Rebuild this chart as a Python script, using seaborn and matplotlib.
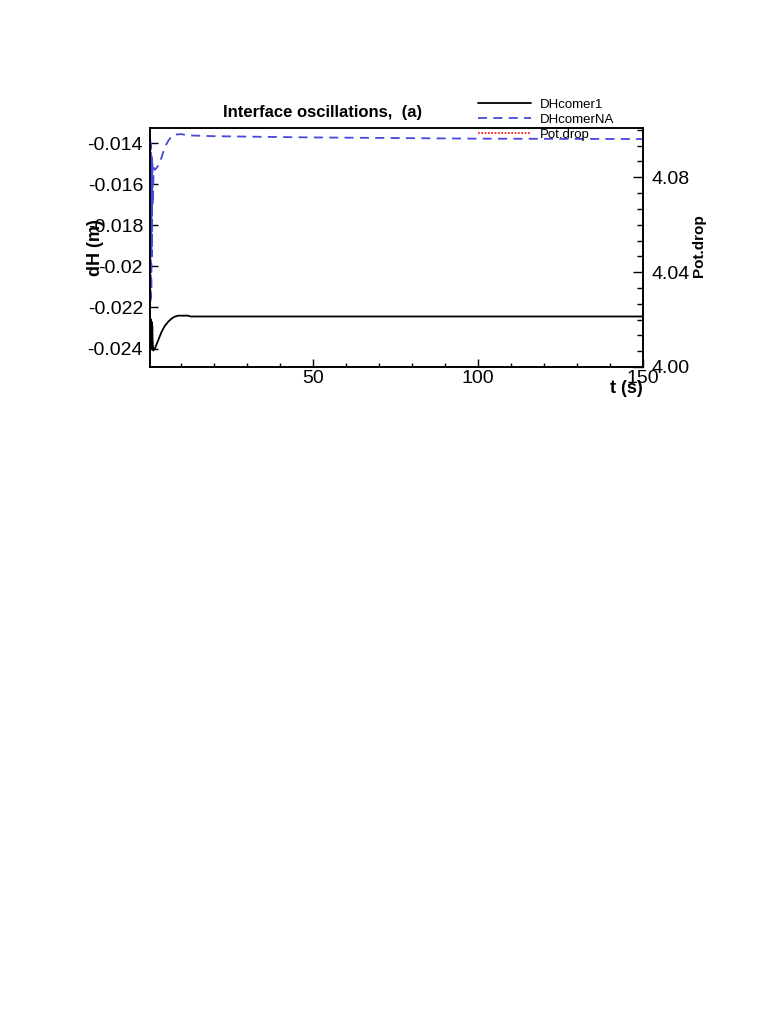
import numpy as np
import pandas as pd
import seaborn as sns
import matplotlib.pyplot as plt
from matplotlib.ticker import MultipleLocator

# DHcomer1 (black solid)
t_c1 = [0.6, 0.7, 0.8, 0.9, 1.0, 1.1, 1.2, 1.3, 1.5, 2.0, 3.0, 4.0, 5.0, 6.0,
        7.0, 8.0, 9.0, 12.0, 12.8, 20.0, 50.0, 100.0, 150.0]
dh_c1 = [-0.0225, -0.0238, -0.0226, -0.0239, -0.0227, -0.0240, -0.0229, -0.0236,
         -0.0241, -0.0240, -0.0236, -0.0232, -0.0229, -0.0227, -0.02255, -0.02245,
         -0.0224, -0.0224, -0.02244, -0.02244, -0.02244, -0.02244, -0.02244]

# DHcomerNA (blue dashed)
t_na = [0.6, 0.7, 0.8, 0.9, 1.0, 1.1, 1.2, 1.4, 1.6, 2.0, 3.0, 4.0, 5.0, 6.0,
        7.0, 8.0, 10.0, 12.0, 20.0, 50.0, 100.0, 150.0]
dh_na = [-0.0138, -0.0218, -0.0140, -0.0212, -0.0145, -0.0195, -0.0148, -0.0170,
         -0.0152, -0.0153, -0.0151, -0.0147, -0.0142, -0.0139, -0.01368, -0.01358,
         -0.01356, -0.01362, -0.01366, -0.01372, -0.01378, -0.0138]

# Pot.drop (red dotted) - nothing of it shows inside the plotted range
t_pot = []
v_pot = []

df_c1 = pd.DataFrame({"t": t_c1, "dH": dh_c1})
df_na = pd.DataFrame({"t": t_na, "dH": dh_na})

sns.set_style("ticks")
plt.rcParams["font.family"] = ["Liberation Sans", "DejaVu Sans"]
plt.rcParams["text.color"] = "black"
plt.rcParams["axes.labelcolor"] = "black"
plt.rcParams["xtick.color"] = "black"
plt.rcParams["ytick.color"] = "black"
plt.rcParams["axes.edgecolor"] = "black"

fig = plt.figure(figsize=(7.81, 10.11), dpi=100)
ax = fig.add_axes([0.192, 0.637, 0.631, 0.236])

sns.lineplot(data=df_c1, x="t", y="dH", ax=ax, color="black", lw=1.3,
             sort=False, estimator=None, label="DHcomer1", legend=False)
sns.lineplot(data=df_na, x="t", y="dH", ax=ax, color="#4646e0", lw=1.3,
             sort=False, estimator=None, label="DHcomerNA", legend=False)
ax.lines[1].set_dashes((5, 3.5))

ax.set_xlim(0.5, 150)
ax.set_ylim(-0.0249, -0.01328)
ax.xaxis.set_minor_locator(MultipleLocator(10))
ax.set_yticks([-0.024, -0.022, -0.02, -0.018, -0.016, -0.014])
ax.set_yticklabels(["-0.024", "-0.022", "-0.02", "-0.018", "-0.016", "-0.014"])
ax.set_xticks([50, 100, 150])
ax.tick_params(axis="both", which="major", direction="in", length=6, width=1,
               labelsize=14)
ax.tick_params(axis="y", which="major", pad=5)
ax.tick_params(axis="x", which="major", pad=2)
ax.tick_params(axis="x", which="minor", direction="in", length=3, width=1)
for s in ax.spines.values():
    s.set_linewidth(1.2)

ax.set_xlabel("t (s)", fontsize=13, fontweight="bold")
ax.xaxis.set_label_coords(0.967, -0.055)
ax.set_ylabel("dH (m)", fontsize=13, fontweight="bold")
ax.yaxis.set_label_coords(-0.094, 0.5)

ax2 = ax.twinx()
pot_line, = ax2.plot(t_pot, v_pot, color="red", lw=1.2, ls=(0, (1, 1)), label="Pot.drop")
ax2.set_ylim(4.0, 4.1006)
ax2.set_yticks([4.00, 4.04, 4.08])
ax2.set_yticklabels(["4.00", "4.04", "4.08"])
ax2.yaxis.set_minor_locator(MultipleLocator(0.04 / 6))
ax2.tick_params(axis="y", which="major", direction="in", length=7, width=1,
                labelsize=14, pad=6)
ax2.tick_params(axis="y", which="minor", direction="in", length=4, width=1)
ax2.set_ylabel("Pot.drop", fontsize=11, fontweight="bold")
ax2.yaxis.set_label_coords(1.1, 0.51)
for s in ax2.spines.values():
    s.set_linewidth(1.2)

ax.set_title("Interface oscillations,  (a)", fontsize=12, fontweight="bold",
             x=0.35, pad=8)

handles = [ax.lines[0], ax.lines[1], pot_line]
fig.legend(handles=handles, labels=["DHcomer1", "DHcomerNA", "Pot.drop"],
           loc="upper left", bbox_to_anchor=(0.604, 0.909), frameon=False,
           fontsize=9.5, handlelength=4.0, labelspacing=0.2, handletextpad=0.7,
           borderpad=0)

fig.savefig("out.png", dpi=100)
